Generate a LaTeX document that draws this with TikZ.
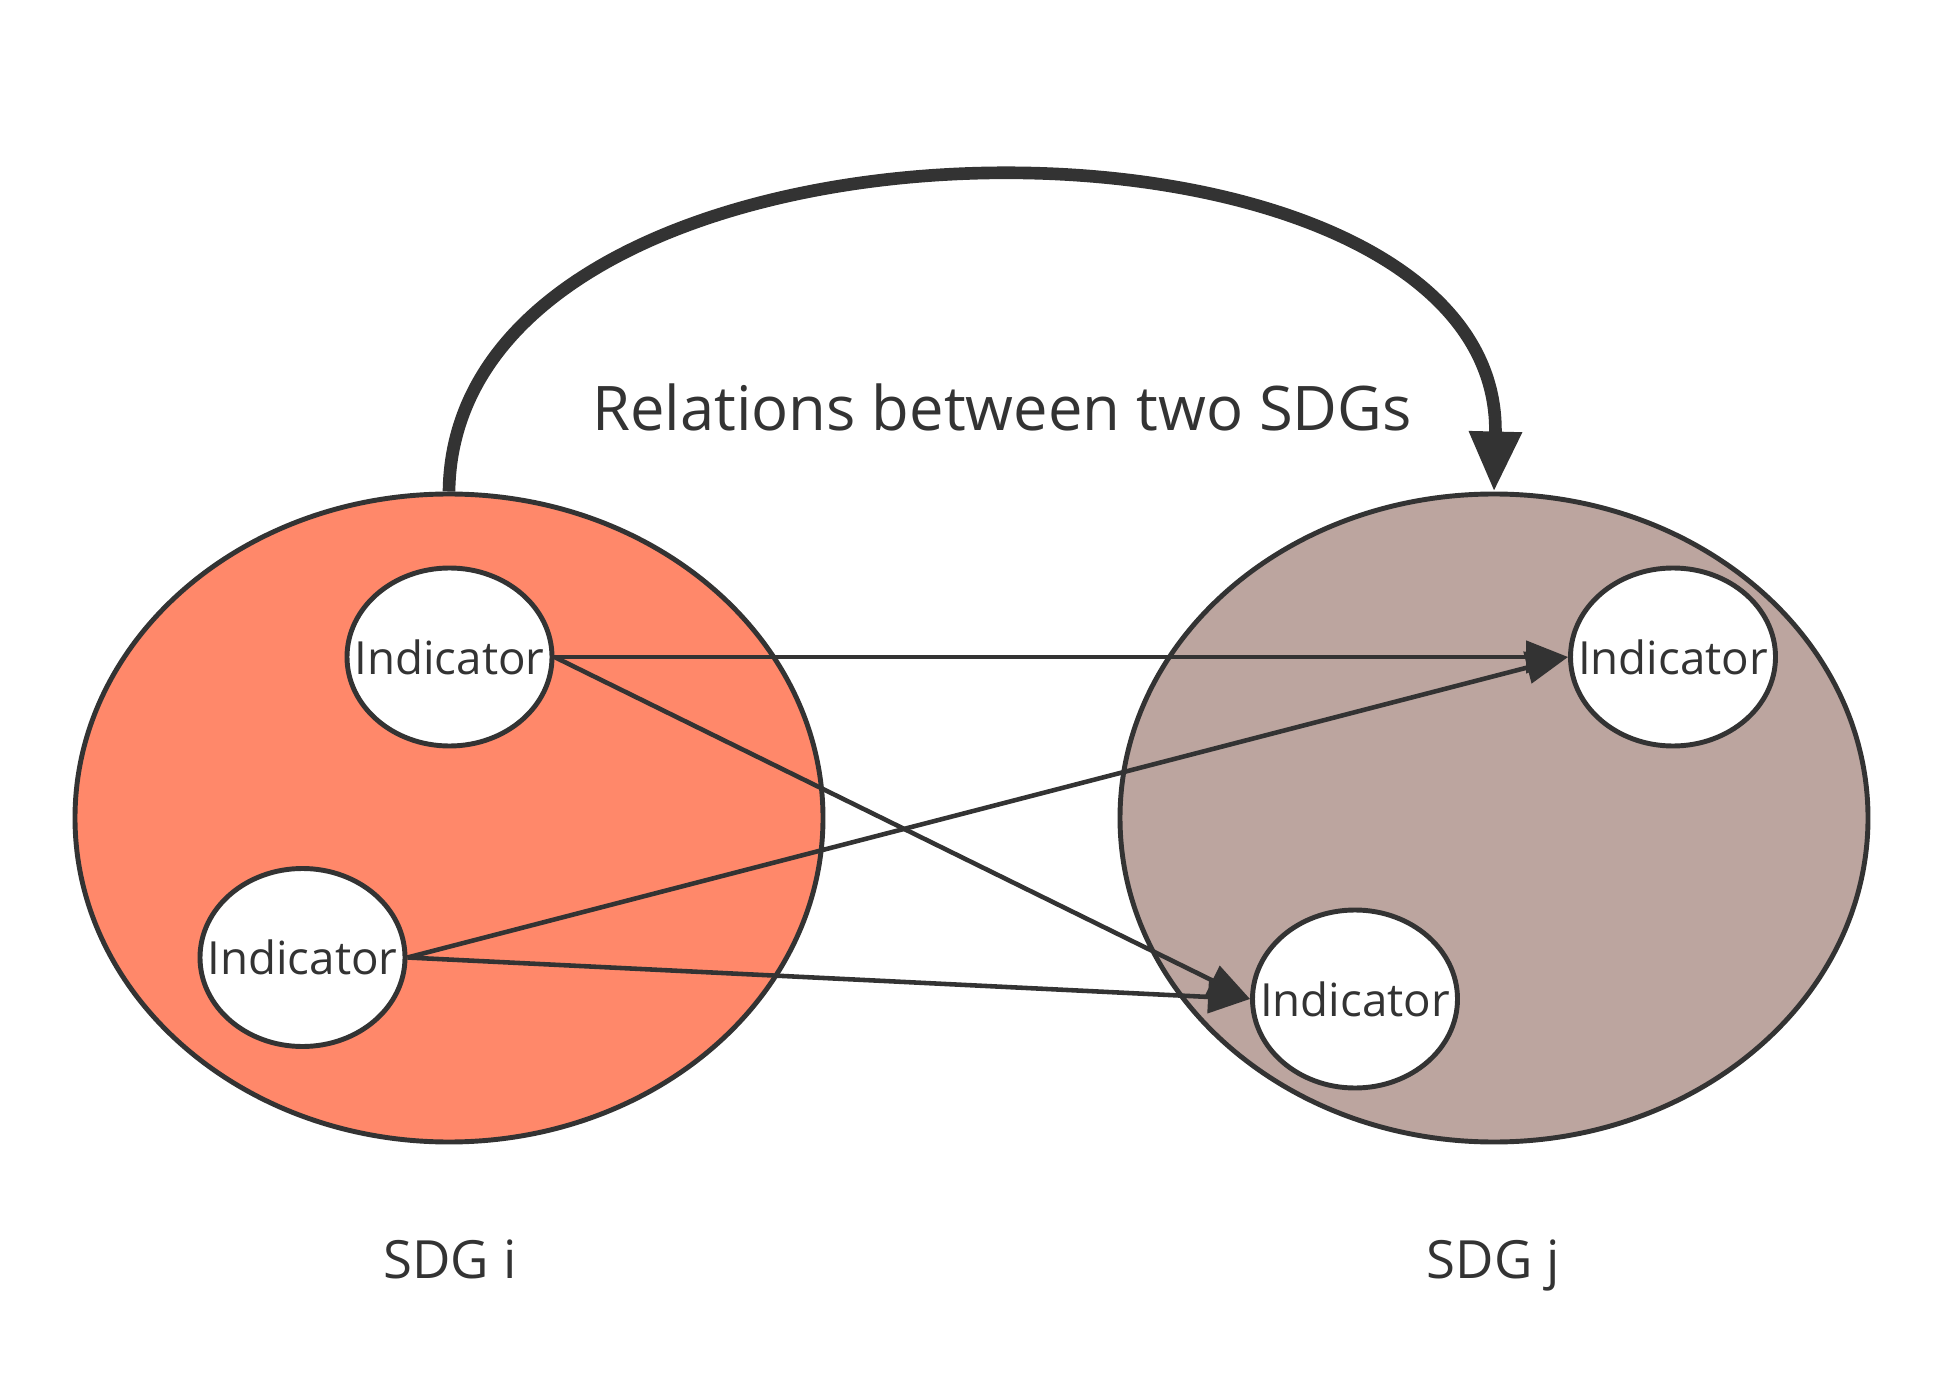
\documentclass[tikz,border=0pt]{standalone}
\usepackage{fontspec}
\setmainfont{Open Sans}
\usetikzlibrary{shapes.geometric,arrows.meta}
\definecolor{tinta}{HTML}{333333}
\definecolor{coral}{HTML}{FF886A}
\definecolor{cinza}{HTML}{BCA59F}
\newcommand{\indic}{\makebox[0pt]{Indicator}}
\begin{document}
\begin{tikzpicture}[
    grupo/.style={ellipse, draw=tinta, line width=1.4pt, minimum width=7.48cm, minimum height=6.48cm, inner sep=0pt},
    indicador/.style={ellipse, draw=tinta, fill=white, line width=1.4pt, minimum width=2.05cm, minimum height=1.78cm, inner sep=0pt, text=tinta, font=\fontsize{13}{15}\selectfont},
    ligacao/.style={tinta, line width=1.3pt, -{Triangle[length=0.42cm, width=0.32cm]}},
    rotulo/.style={text=tinta, anchor=base, font=\fontsize{15}{18}\selectfont}
]
    \useasboundingbox (0,0) rectangle (19.43,13.85);

    % Os dois SDGs
    \node[grupo, fill=coral] (sdgi) at (4.49,5.67) {};
    \node[grupo, fill=cinza] (sdgj) at (14.94,5.67) {};

    % Indicadores dentro de cada SDG
    \node[indicador] (a1) at (4.495,7.28) {\indic};
    \node[indicador] (a2) at (3.025,4.275) {\indic};
    \node[indicador] (b1) at (16.73,7.28) {\indic};
    \node[indicador] (b2) at (13.55,3.86) {\indic};

    % Ligações entre indicadores
    \foreach \de/\para in {a1/b1, a1/b2, a2/b1, a2/b2} {
        \draw[ligacao] (\de.east) -- (\para.west);
    }

    % Seta grossa de relação entre os SDGs
    \draw[tinta, line width=3.6pt, -{Triangle[length=0.6cm, width=0.5cm]}] (sdgi.north) .. controls +(0.05,4.15) and +(0.1,4.15) .. (sdgj.north);

    % Textos
    \node[rotulo, font=\fontsize{17.5}{21}\selectfont] (titulo) at (10.02,9.54) {Relations between two SDGs};
    \node[rotulo] (nomei) at (4.50,1.07) {SDG i};
    \node[rotulo] (nomej) at (14.93,1.07) {SDG j};
\end{tikzpicture}
\end{document}
